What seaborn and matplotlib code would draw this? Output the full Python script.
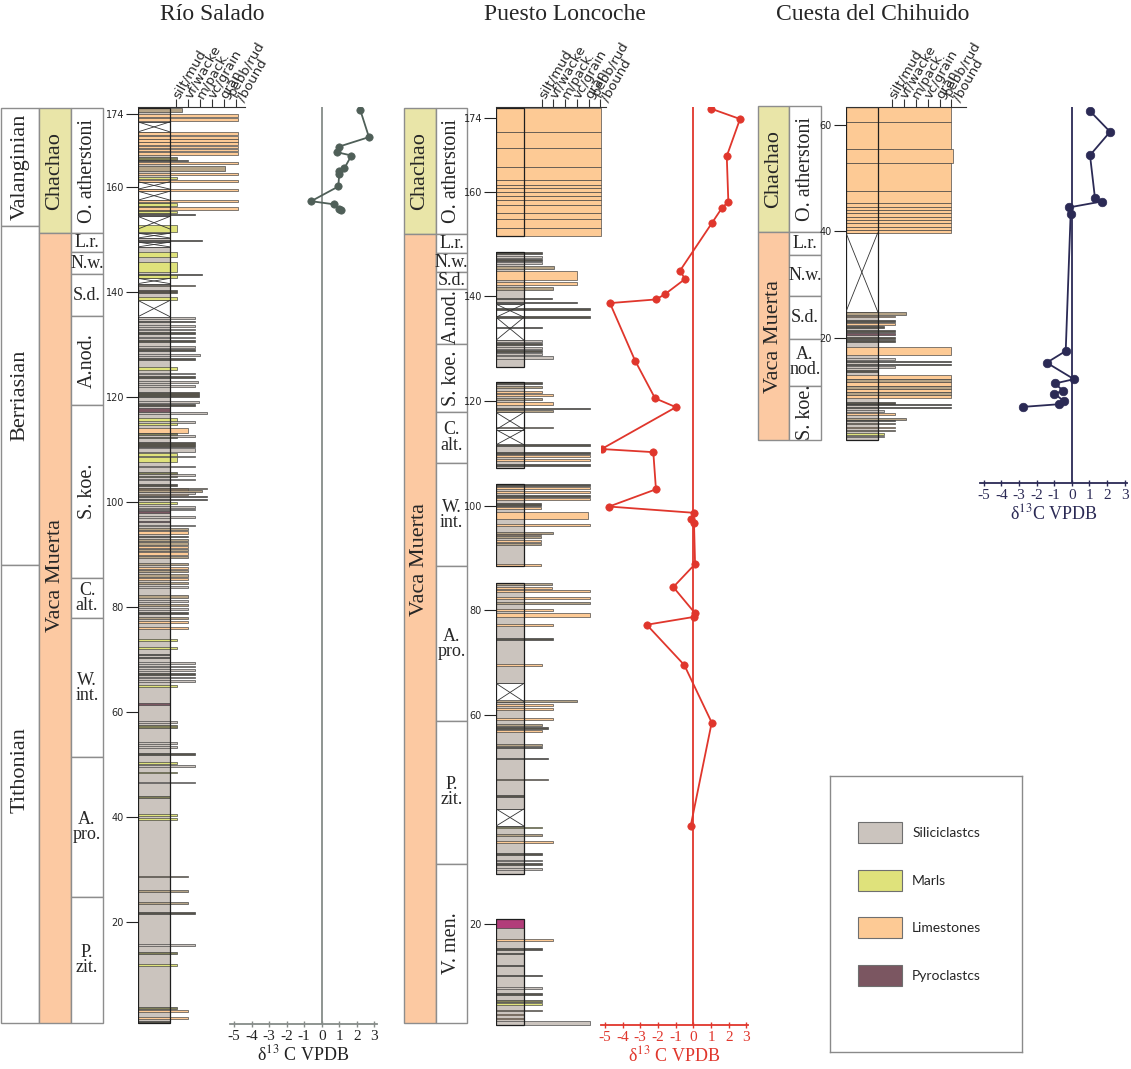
import numpy as np
import pandas as pd
import matplotlib
matplotlib.use("Agg")
import matplotlib.pyplot as plt
from matplotlib.patches import Patch
import seaborn as sns

# ---------------- data ----------------
grain_labels = ["silt/mud", "vf/wacke", "m/pack", "vc/grain", "gran", "pebb/rud\n/bound"]
iso_ticks = [-5, -4, -3, -2, -1, 0, 1, 2, 3]

legend_names = ["Siliciclastcs", "Marls", "Limestones", "Pyroclastcs"]
legend_keys = ["sil", "marl", "lime", "pyro"]

# Rio Salado
rs_stage_names = ["Valanginian", "Berriasian", "Tithonian"]
rs_stage_tops = [175.0, 152.6, 88.0]
rs_stage_bases = [152.6, 88.0, 0.8]
rs_fm_names = ["Chachao", "Vaca Muerta"]
rs_fm_tops = [175.0, 151.2]
rs_fm_bases = [151.2, 0.8]
rs_zone_names = ["O. atherstoni", "L.r.", "N.w.", "S.d.", "A.nod.", "S. koe.",
                 "C.\nalt.", "W.\nint.", "A.\npro.", "P.\nzit."]
rs_zone_tops = [175.0, 151.2, 147.6, 143.4, 135.4, 118.5, 85.5, 77.9, 51.4, 24.8]
rs_zone_bases = [151.2, 147.6, 143.4, 135.4, 118.5, 85.5, 77.9, 51.4, 24.8, 0.8]
rs_segments = [(0.8, 175.0)]
rs_covered = [(170.5, 172.4), (159.6, 161.0), (157.5, 159.2), (152.0, 154.4),
              (150.3, 151.2), (148.6, 149.5), (141.6, 142.6), (135.3, 138.4)]
# (base m, top m, lithology, grain-size reached; None = column only)
rs_beds = [
    (174.2, 175.0, "tan", 1.5), (173.3, 173.9, "lime", 6.2), (172.6, 173.1, "lime", 6.2),
    (169.9, 170.5, "lime", 6.2), (169.2, 169.7, "lime", 6.2), (168.6, 169.1, "lime", 6.2),
    (168.0, 168.5, "lime", 6.2), (167.4, 167.9, "lime", 6.2), (166.8, 167.3, "lime", 6.2),
    (166.1, 166.7, "lime", 6.2), (165.1, 165.7, "olive", 1.1), (164.9, 165.1, "dark", 2.0),
    (164.3, 164.8, "lime", 6.2), (163.0, 164.0, "tan", 5.1), (162.3, 162.7, "lime", 6.2),
    (161.5, 161.9, "marl", 1.1), (161.0, 161.4, "lime", 6.2), (159.2, 159.6, "lime", 6.2),
    (157.1, 157.5, "lime", 6.2), (155.0, 157.0, "olive", None), (156.4, 157.0, "marl", 1.1),
    (155.7, 156.2, "lime", 6.2), (155.0, 155.5, "marl", 1.1), (154.6, 154.8, "dark", 2.6),
    (151.5, 152.7, "marl", 1.1), (149.8, 150.0, "dark", 3.2), (146.7, 147.6, "marl", 1.1),
    (143.8, 145.7, "marl", 1.1), (143.3, 143.5, "dark", 3.2), (142.7, 143.2, "marl", 1.1),
    (141.1, 141.4, "tan", 2.6), (139.8, 140.4, "dark", 1.1), (138.5, 139.0, "marl", 1.1),
    (134.8, 135.2, "sil", 2.6), (134.2, 134.5, "dark", 2.6), (133.4, 133.7, "sil", 2.6),
    (132.7, 133.0, "sil", 2.6), (132.0, 132.3, "dark", 2.6), (131.2, 131.5, "sil", 2.6),
    (130.5, 130.8, "dark", 2.6), (129.4, 129.7, "sil", 2.6), (128.8, 129.1, "dark", 2.6),
    (127.9, 128.2, "sil", 3.0), (127.1, 127.4, "dark", 2.6), (125.1, 125.7, "marl", 1.1),
    (124.3, 124.6, "sil", 2.6), (123.7, 124.0, "dark", 2.6), (122.7, 123.0, "sil", 2.8),
    (121.9, 122.2, "sil", 2.6), (120.0, 121.0, "dark", 2.9),
    (118.8, 119.3, "sil", 2.9), (118.2, 118.6, "dark", 2.6), (117.2, 117.9, "pyro", None),
    (116.8, 117.1, "sil", 3.6), (114.7, 116.0, "marl", 1.1), (115.1, 115.4, "sil", 2.6),
    (113.1, 114.1, "lime", 2.0), (112.2, 113.1, "olive", 1.1), (112.4, 112.7, "sil", 2.6),
    (110.5, 111.4, "dark", 2.6), (109.5, 110.3, "sil", 2.6), (107.6, 109.3, "marl", 1.1),
    (108.5, 108.8, "sil", 2.6), (106.6, 106.9, "sil", 2.6), (104.8, 105.7, "olive", 1.1),
    (105.0, 105.3, "sil", 2.6), (104.1, 104.4, "sil", 2.6), (103.1, 103.4, "dark", 1.1),
    (101.3, 102.7, "lime", 2.0), (102.4, 102.7, "tan", 3.6), (102.0, 102.3, "tan", 3.2),
    (101.6, 101.9, "sil", 2.6), (100.9, 101.2, "dark", 3.6), (100.3, 100.6, "dark", 3.6),
    (99.6, 100.0, "marl", 1.1), (98.9, 99.2, "sil", 2.6), (98.4, 98.7, "sil", 2.6),
    (97.9, 98.2, "pyro", None), (97.0, 97.3, "sil", 2.6), (96.1, 96.4, "pyro", None),
    (95.4, 95.7, "sil", 2.6), (94.6, 95.0, "tan", 2.0), (94.0, 94.4, "lime", 2.0),
    (93.3, 93.6, "dark", 2.0), (92.6, 93.0, "tan", 2.0), (91.9, 92.3, "tan", 2.0),
    (91.3, 91.7, "lime", 2.0), (90.6, 91.0, "tan", 2.0), (90.0, 90.4, "lime", 2.0),
    (89.4, 89.8, "tan", 2.0), (88.0, 88.4, "tan", 2.0), (87.3, 87.7, "lime", 2.0),
    (86.6, 87.0, "tan", 2.0), (85.8, 86.2, "tan", 2.0), (85.1, 85.5, "lime", 2.0),
    (84.4, 84.8, "tan", 2.0), (83.6, 84.0, "sil", 2.0), (81.8, 82.2, "tan", 2.0),
    (81.0, 81.4, "sil", 2.0), (80.2, 80.6, "tan", 2.0), (79.4, 79.8, "sil", 2.0),
    (78.6, 79.0, "dark", 2.0), (77.7, 78.1, "tan", 2.0), (76.9, 77.3, "lime", 2.0),
    (75.8, 76.2, "lime", 2.0), (73.5, 74.0, "marl", 1.1), (72.0, 72.4, "marl", 1.1),
    (70.8, 71.0, "dark", None), (70.2, 70.4, "dark", None), (69.2, 69.5, "sil", 2.6),
    (68.5, 68.8, "sil", 2.6), (67.8, 68.1, "sil", 2.6), (67.1, 67.4, "dark", 2.6),
    (66.4, 66.7, "sil", 2.6), (65.8, 66.1, "sil", 2.6), (64.8, 65.2, "marl", 1.1),
    (61.4, 61.7, "pyro", None), (58.0, 58.3, "sil", 1.1), (56.9, 57.6, "olive", 1.1),
    (53.9, 54.2, "sil", 1.1), (53.2, 53.5, "sil", 1.1), (51.9, 52.2, "dark", 2.6),
    (50.1, 50.5, "marl", 1.1), (49.6, 49.9, "sil", 2.6), (48.3, 48.6, "marl", 1.1),
    (46.4, 46.7, "sil", 2.6), (43.7, 44.0, "olive", None), (40.1, 40.5, "marl", 1.1),
    (39.5, 39.9, "marl", 1.1), (28.5, 28.8, "tan", 2.0), (25.8, 26.1, "tan", 2.0),
    (23.5, 23.8, "tan", 2.0), (21.6, 21.9, "dark", 2.6), (15.5, 15.8, "sil", 2.6),
    (14.0, 14.3, "olive", 1.1), (11.7, 12.0, "marl", 1.1), (3.5, 3.8, "olive", 1.1),
    (2.8, 3.2, "lime", 2.0), (1.6, 1.9, "lime", 2.0), (0.8, 1.2, "dark", None),
]
rs_yticks = [20, 40, 60, 80, 100, 120, 140, 160, 174]
rs_iso_depth = [174.7, 169.5, 167.7, 166.6, 166.0, 163.6, 163.0, 162.5, 160.1, 157.3, 156.7, 155.9, 155.6]
rs_iso_d13c = [2.2, 2.7, 1.0, 0.9, 1.7, 1.3, 1.0, 1.0, 0.95, -0.6, 0.7, 1.0, 1.1]

# Puesto Loncoche
pl_fm_names = ["Chachao", "Vaca Muerta"]
pl_fm_tops = [176.0, 152.0]
pl_fm_bases = [152.0, 1.0]
pl_zone_names = ["O. atherstoni", "L.r.", "N.w.", "S.d.", "A.nod.", "S. koe.",
                 "C.\nalt.", "W.\nint.", "A.\npro.", "P.\nzit.", "V. men."]
pl_zone_tops = [176.0, 152.0, 148.3, 144.6, 141.4, 130.9, 117.9, 108.1, 88.4, 58.8, 31.5]
pl_zone_bases = [152.0, 148.3, 144.6, 141.4, 130.9, 117.9, 108.1, 88.4, 58.8, 31.5, 1.0]
pl_segments = [(151.6, 176.0), (126.5, 148.5), (107.2, 123.7), (88.5, 104.1), (29.5, 85.2), (0.7, 20.9)]
pl_covered = [(136.0, 138.5), (131.6, 136.0), (114.5, 117.8), (111.6, 114.5), (62.5, 66.0), (38.7, 42.0)]
pl_beds = [
    (171.5, 176.0, "lime", 6.07), (168.3, 171.5, "lime", 6.07), (164.8, 168.3, "lime", 6.07),
    (162.2, 164.8, "lime", 6.07), (161.3, 162.2, "lime", 6.07), (160.8, 161.3, "lime", 6.07),
    (160.0, 160.8, "lime", 6.07), (159.2, 160.0, "lime", 6.07), (158.4, 159.2, "lime", 6.07),
    (157.5, 158.4, "lime", 6.07), (155.9, 157.5, "lime", 6.07), (154.7, 155.9, "lime", 6.07),
    (153.0, 154.7, "lime", 6.07), (151.6, 153.0, "lime", 6.07),
    (148.0, 148.4, "dark", 1.0), (147.4, 147.8, "sil", 1.0), (146.8, 147.2, "dark", 1.0),
    (146.1, 146.5, "sil", 1.0), (145.3, 145.7, "tan", 2.05), (143.2, 144.9, "lime", 4.0),
    (142.2, 142.8, "lime", 4.0), (141.2, 141.8, "tan", 2.0), (139.4, 139.6, "dark", 1.9),
    (138.7, 138.9, "dark", 4.0), (137.4, 137.8, "dark", 5.1), (135.8, 136.2, "dark", 5.1),
    (133.9, 134.1, "dark", 1.0), (131.2, 131.6, "sil", 1.0), (130.6, 131.0, "dark", 1.0),
    (129.9, 130.3, "sil", 1.0), (129.3, 129.7, "dark", 1.0), (128.7, 129.1, "sil", 1.0),
    (128.1, 128.5, "sil", 2.0), (123.3, 123.7, "dark", 1.0), (122.5, 122.9, "tan", 1.0),
    (121.5, 121.9, "lime", 1.0), (120.9, 121.3, "lime", 2.0), (120.1, 120.5, "tan", 1.0),
    (119.3, 119.7, "lime", 2.0), (118.4, 118.7, "dark", 5.1), (117.8, 118.2, "tan", 2.0),
    (114.8, 115.1, "tan", 2.0), (111.3, 111.7, "dark", 5.1), (109.9, 110.3, "dark", 5.1),
    (109.3, 109.7, "lime", 5.1), (108.5, 108.9, "lime", 5.1), (107.6, 108.0, "dark", 5.1),
    (103.8, 104.1, "dark", 5.1), (103.1, 103.5, "lime", 5.1), (102.3, 102.7, "lime", 5.1),
    (101.7, 102.1, "dark", 5.1), (101.0, 101.4, "lime", 5.1), (100.0, 100.4, "dark", 0.9),
    (99.4, 99.8, "lime", 0.9), (97.5, 98.8, "lime", 4.96), (96.0, 96.5, "lime", 5.1),
    (94.6, 94.9, "tan", 2.0), (94.3, 94.6, "lime", 0.9), (93.7, 94.1, "tan", 0.9),
    (93.0, 93.4, "lime", 0.9), (92.4, 92.8, "tan", 0.9), (88.5, 88.9, "lime", 0.9),
    (84.8, 85.2, "tan", 1.9), (84.0, 84.4, "lime", 1.9), (83.4, 83.8, "lime", 5.1),
    (82.1, 82.5, "lime", 5.1), (81.2, 81.6, "tan", 5.1), (79.9, 80.3, "lime", 2.0),
    (78.7, 79.4, "lime", 5.1), (77.0, 77.4, "lime", 2.0), (74.3, 74.6, "dark", 2.0),
    (69.3, 69.6, "lime", 1.0), (62.4, 62.8, "tan", 4.0), (61.6, 62.0, "lime", 2.0),
    (60.9, 61.3, "lime", 2.0), (58.9, 59.3, "lime", 2.0), (57.8, 58.2, "tan", 1.0),
    (57.3, 57.6, "dark", 1.5), (56.7, 57.1, "lime", 1.0), (54.0, 54.4, "tan", 1.0),
    (53.6, 53.9, "dark", 1.0), (51.5, 51.8, "dark", 1.5), (47.5, 47.8, "tan", 1.5),
    (44.3, 44.6, "dark", None), (38.3, 38.6, "marl", 1.0), (36.8, 37.1, "tan", 1.0),
    (35.5, 35.9, "lime", 2.0), (33.2, 33.5, "dark", 1.0), (32.0, 32.3, "sil", 1.0),
    (31.3, 31.6, "dark", 1.0), (30.3, 30.6, "sil", 1.0), (19.2, 20.9, "mag", None),
    (16.7, 17.1, "lime", 2.0), (15.1, 15.4, "dark", 1.0), (14.2, 14.4, "dark", None),
    (12.0, 12.2, "dark", None), (10.0, 10.3, "dark", 1.0), (7.6, 7.9, "sil", 1.0),
    (6.4, 6.7, "dark", 1.0), (5.1, 5.5, "olive", 1.0), (4.4, 4.8, "marl", 1.0),
    (3.3, 3.6, "tan", 1.0), (2.5, 2.7, "lime", None), (1.9, 2.1, "lime", None),
    (0.7, 1.5, "sil", 5.1),
]
pl_yticks = [20, 60, 80, 100, 120, 140, 160, 174]
pl_iso_depth = [175.9, 173.9, 166.8, 158.1, 156.8, 154.1, 144.9, 143.3, 140.4, 139.4, 138.7,
                127.7, 120.5, 118.8, 110.8, 110.2, 103.1, 99.8, 98.6, 97.4, 96.6, 88.8,
                84.4, 79.4, 78.7, 77.2, 69.5, 58.5, 38.7]
pl_iso_d13c = [0.98, 2.64, 1.89, 1.98, 1.60, 1.07, -0.75, -0.47, -1.60, -2.11, -4.71,
               -3.29, -2.16, -0.98, -5.18, -2.26, -2.11, -4.76, 0.04, -0.13, 0.04, 0.10,
               -1.13, 0.10, 0.04, -2.63, -0.51, 1.04, -0.15]

# Cuesta del Chihuido
cc_fm_names = ["Chachao", "Vaca Muerta"]
cc_fm_tops = [63.6, 39.8]
cc_fm_bases = [39.8, 0.8]
cc_zone_names = ["O. atherstoni", "L.r.", "N.w.", "S.d.", "A.\nnod.", "S. koe."]
cc_zone_tops = [63.6, 39.8, 35.5, 27.8, 19.8, 11.0]
cc_zone_bases = [39.8, 35.5, 27.8, 19.8, 11.0, 0.8]
cc_segments = [(0.7, 63.4)]
cc_covered = [(24.9, 39.7)]
cc_beds = [
    (60.6, 63.4, "lime", 5.96), (55.4, 60.6, "lime", 5.96), (52.8, 55.4, "lime", 6.1),
    (47.6, 52.8, "lime", 5.96), (45.3, 47.6, "lime", 5.96), (44.6, 45.3, "lime", 5.96),
    (44.0, 44.6, "lime", 5.96), (43.4, 44.0, "lime", 5.96), (42.7, 43.4, "lime", 5.96),
    (42.1, 42.7, "lime", 5.96), (41.5, 42.1, "lime", 5.96), (40.9, 41.5, "lime", 5.96),
    (40.2, 40.9, "lime", 5.96), (39.7, 40.2, "lime", 5.96),
    (24.2, 24.8, "tan", 2.2), (23.8, 24.1, "lime", 1.28), (23.0, 23.4, "dark", 1.28),
    (22.3, 22.7, "lime", 1.28), (21.9, 22.2, "dark", 0.35), (21.0, 21.4, "dark", 1.28),
    (20.5, 20.8, "pyro", 1.28), (19.8, 20.1, "dark", 1.28), (19.2, 19.5, "dark", 1.28),
    (16.7, 18.3, "lime", 5.96), (15.9, 16.2, "sil", 1.28), (15.4, 15.6, "dark", 5.96),
    (14.9, 15.1, "dark", 5.96), (14.3, 14.6, "sil", 1.28), (13.6, 14.0, "dark", None),
    (12.3, 13.0, "lime", 5.96), (11.7, 12.3, "tan", 5.96), (11.0, 11.7, "lime", 5.96),
    (10.4, 11.0, "tan", 5.96), (9.8, 10.4, "lime", 5.96), (9.2, 9.8, "tan", 5.96),
    (8.6, 9.2, "lime", 5.96), (7.6, 7.9, "dark", 1.28), (7.3, 7.5, "dark", 5.96),
    (6.7, 6.9, "dark", 5.96), (6.1, 6.4, "sil", 0.35), (5.5, 5.8, "lime", 1.28),
    (4.6, 4.9, "tan", 2.2), (4.3, 4.6, "dark", 1.28), (3.7, 4.0, "tan", 1.28),
    (3.0, 3.3, "lime", 1.28), (2.4, 2.7, "tan", 1.28), (1.8, 2.1, "marl", 0.35),
    (1.3, 1.6, "sil", 0.35),
]
cc_yticks = [20, 40, 60]
cc_iso_depth = [62.6, 58.7, 54.3, 46.3, 45.6, 44.5, 43.3, 17.5, 15.3, 12.2, 11.4, 10.0, 9.5, 8.1, 7.5, 7.0]
cc_iso_d13c = [1.04, 2.18, 1.04, 1.32, 1.70, -0.13, -0.06, -0.34, -1.42, 0.13, -0.95, -0.48,
               -1.0, -0.44, -0.70, -2.75]

# ---------------- style / layout ----------------
LITH = {"sil": "#cbc4be", "marl": "#dfe27b", "lime": "#fdca95", "pyro": "#7b5661",
        "dark": "#57544b", "tan": "#b5a386", "olive": "#7f7e57", "mag": "#b23d7a"}
FM_COL = {"Chachao": "#e9e5a8", "Vaca Muerta": "#fcc9a2"}
SERIF = ["Liberation Serif", "DejaVu Serif"]
W, H = 1131, 1069
TOP = 107

RS = dict(zero_px=1027, ppm=5.25, col_left=138, inner=170, tick1=176, step=12, scale_end=245,
          iso_x0=230, iso_x1=377, iso_zero=321.7, iso_ppu=17.5, iso_base=1024)
PL = dict(zero_px=1028.5, ppm=5.23, col_left=496, inner=524, tick1=541.7, step=11.7, scale_end=606,
          iso_x0=601, iso_x1=748, iso_zero=693.3, iso_ppu=17.7, iso_base=1025)
CC = dict(zero_px=444.1, ppm=5.32, col_left=846, inner=877.7, tick1=891.7, step=11.95, scale_end=966,
          iso_x0=980, iso_x1=1127, iso_zero=1071.7, iso_ppu=17.6, iso_base=483)

sns.set_style("white")
plt.rcParams["font.family"] = ["DejaVu Sans"]
plt.rcParams["mathtext.fontset"] = "stix"


def m_of(lay, px):
    return (lay["zero_px"] - px) / lay["ppm"]


def px_axes(fig, x0, x1, y0, y1):
    return fig.add_axes([x0 / W, 1 - y1 / H, (x1 - x0) / W, (y1 - y0) / H])


def draw_blocks(fig, lay, x0, x1, names, tops, bases, colors, fsize, label_at=None):
    ax = px_axes(fig, x0, x1, TOP, lay["zero_px"])
    ax.set_xlim(0, 1)
    ax.set_ylim(0, m_of(lay, TOP))
    label_at = label_at or {}
    for name, top, base, c in zip(names, tops, bases, colors):
        bars = ax.bar(0.5, top - base, bottom=base, width=1, color=c,
                      edgecolor="#8d8d8d", linewidth=1.0)
        for b in bars:
            b.set_clip_on(False)
        rot = 90 if ("\n" not in name and len(name) > 5) else 0
        ymid = label_at.get(name, (top + base) / 2)
        ax.text(0.5, ymid, name, rotation=rot, ha="center", va="center",
                fontsize=fsize if rot else fsize - 1.5, family=SERIF, linespacing=0.85)
    ax.axis("off")


def draw_litho(fig, lay, segments, covered, beds, yticks):
    def gx(px):
        return 1 + (px - lay["tick1"]) / lay["step"]
    left, inner = gx(lay["col_left"]), gx(lay["inner"])
    ax = px_axes(fig, lay["col_left"], lay["scale_end"], TOP, lay["zero_px"])
    for base, top in segments:
        ax.barh((base + top) / 2, inner - left, left=left, height=top - base,
                color=LITH["sil"], edgecolor="none")
    for base, top in covered:
        ax.barh((base + top) / 2, inner - left, left=left, height=top - base,
                color="white", edgecolor="#333333", linewidth=0.6)
        ax.plot([left, inner], [base, top], color="#333333", lw=0.6)
        ax.plot([left, inner], [top, base], color="#333333", lw=0.6)
    for base, top, lith, g in beds:
        right = inner if g is None else g
        ax.barh((base + top) / 2, right - left, left=left, height=top - base,
                color=LITH[lith], edgecolor="#3c3c3c", linewidth=0.45)
    for base, top in segments:
        ax.barh((base + top) / 2, inner - left, left=left, height=top - base,
                fill=False, edgecolor="#1e1e1e", linewidth=0.9)
    ax.set_xlim(left, gx(lay["scale_end"]))
    ax.set_ylim(0, m_of(lay, TOP))
    for s in ["left", "right", "bottom"]:
        ax.spines[s].set_visible(False)
    ax.spines["top"].set_color("#333333")
    ax.spines["top"].set_linewidth(0.8)
    ax.xaxis.set_ticks_position("top")
    ax.set_xticks(range(1, 7))
    ax.set_xticklabels(grain_labels, rotation=60, ha="left", va="center",
                       rotation_mode="anchor", fontsize=9.5, linespacing=0.8)
    ax.tick_params(axis="x", top=True, bottom=False, length=6, width=0.8, pad=1, color="#333333")
    ax.set_yticks(yticks)
    ax.set_yticklabels([str(t) for t in yticks])
    ax.tick_params(axis="y", left=True, length=9, width=0.8, labelsize=7, pad=1, color="#222222")
    ax.grid(False)
    return ax


def draw_iso(fig, lay, depth, d13c, color, axis_color, text_color, msize, label):
    ax = px_axes(fig, lay["iso_x0"], lay["iso_x1"], TOP, lay["iso_base"])
    df = pd.DataFrame({"depth": depth, "d13c": d13c})
    ax.axvline(0, color=axis_color, lw=1.3, zorder=1)
    sns.lineplot(data=df, x="d13c", y="depth", sort=False, estimator=None,
                 color=color, lw=1.3, ax=ax, zorder=2)
    sns.scatterplot(data=df, x="d13c", y="depth", color=color, s=msize,
                    edgecolor=color, linewidth=0.5, ax=ax, zorder=3)
    ax.set_xlim((lay["iso_x0"] - lay["iso_zero"]) / lay["iso_ppu"],
                (lay["iso_x1"] - lay["iso_zero"]) / lay["iso_ppu"])
    ax.set_ylim(m_of(lay, lay["iso_base"]), m_of(lay, TOP))
    for s in ["left", "right", "top"]:
        ax.spines[s].set_visible(False)
    ax.spines["bottom"].set_color(axis_color)
    ax.spines["bottom"].set_linewidth(1.3)
    ax.set_xticks(iso_ticks)
    ax.set_xticklabels([str(t) for t in iso_ticks], family=SERIF, fontsize=11)
    ax.tick_params(axis="x", bottom=True, direction="inout", length=5, width=1,
                   color=axis_color, labelcolor=text_color, pad=2)
    ax.set_yticks([])
    ax.set_ylabel("")
    ax.set_xlabel(label, color=text_color, fontsize=13, family=SERIF, labelpad=1)
    ax.grid(False)
    ax.patch.set_alpha(0)
    return ax


fig = plt.figure(figsize=(W / 100, H / 100), dpi=100)

# titles
for title, xc in [("Río Salado", 212), ("Puesto Loncoche", 565), ("Cuesta del Chihuido", 873)]:
    fig.text(xc / W, 1 - 14 / H, title, ha="center", va="center", fontsize=17, family=SERIF)

# Rio Salado
draw_blocks(fig, RS, 1, 39, rs_stage_names, rs_stage_tops, rs_stage_bases,
            ["white"] * 3, 16, {"Tithonian": 49})
draw_blocks(fig, RS, 39, 71, rs_fm_names, rs_fm_tops, rs_fm_bases,
            [FM_COL[n] for n in rs_fm_names], 16, {"Vaca Muerta": 86})
draw_blocks(fig, RS, 71, 103, rs_zone_names, rs_zone_tops, rs_zone_bases,
            ["white"] * len(rs_zone_names), 14.5)
draw_litho(fig, RS, rs_segments, rs_covered, rs_beds, rs_yticks)
draw_iso(fig, RS, rs_iso_depth, rs_iso_d13c, "#4f5f58", "#868c89", "#222222", 28,
         r"δ$^{13}$ C VPDB")

# Puesto Loncoche
draw_blocks(fig, PL, 404, 436, pl_fm_names, pl_fm_tops, pl_fm_bases,
            [FM_COL[n] for n in pl_fm_names], 16, {"Vaca Muerta": 89.6})
draw_blocks(fig, PL, 436, 467, pl_zone_names, pl_zone_tops, pl_zone_bases,
            ["white"] * len(pl_zone_names), 14.5)
draw_litho(fig, PL, pl_segments, pl_covered, pl_beds, pl_yticks)
draw_iso(fig, PL, pl_iso_depth, pl_iso_d13c, "#e0362c", "#e0362c", "#e0362c", 28,
         r"δ$^{13}$ C VPDB")

# Cuesta del Chihuido
draw_blocks(fig, CC, 758, 789, cc_fm_names, cc_fm_tops, cc_fm_bases,
            [FM_COL[n] for n in cc_fm_names], 16)
draw_blocks(fig, CC, 789, 821, cc_zone_names, cc_zone_tops, cc_zone_bases,
            ["white"] * len(cc_zone_names), 14.5)
draw_litho(fig, CC, cc_segments, cc_covered, cc_beds, cc_yticks)
draw_iso(fig, CC, cc_iso_depth, cc_iso_d13c, "#2b2a55", "#2b2a55", "#2b2a55", 38,
         r"δ$^{13}$C VPDB")

# legend box
lax = px_axes(fig, 830, 1022, 776, 1052)
lax.set_xticks([])
lax.set_yticks([])
for s in lax.spines.values():
    s.set_color("#8a8a8a")
    s.set_linewidth(1)
handles = [Patch(facecolor=LITH[k], edgecolor="#6f6f6f", linewidth=0.8) for k in legend_keys]
lax.legend(handles, legend_names, loc="upper left", bbox_to_anchor=(0.146, 0.833),
           frameon=False, borderpad=0, borderaxespad=0,
           prop={"family": ["Lato", "DejaVu Sans"], "size": 10},
           handlelength=3.17, handleheight=1.94, labelspacing=1.92, handletextpad=0.72)

fig.savefig("out.png", dpi=100)
